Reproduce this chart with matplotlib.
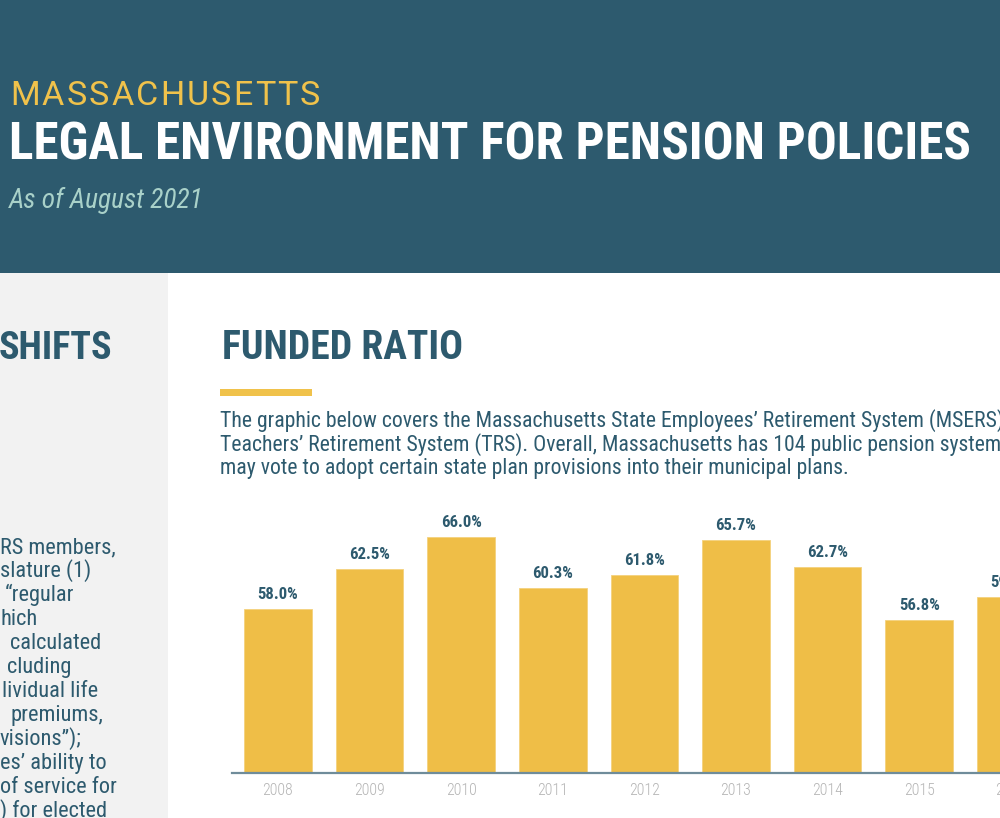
import matplotlib
matplotlib.use('Agg')
import matplotlib.pyplot as plt
from matplotlib import font_manager
from matplotlib.patches import Rectangle

# data
years = ['2008', '2009', '2010', '2011', '2012', '2013', '2014', '2015', '2016']
funded = [58.0, 62.5, 66.0, 60.3, 61.8, 65.7, 62.7, 56.8, 59.3]
bar_labels = ['%.1f%%' % v for v in funded]

intro_lines = [
    "The graphic below covers the Massachusetts State Employees\u2019 Retirement System (MSERS) and the",
    "Teachers\u2019 Retirement System (TRS). Overall, Massachusetts has 104 public pension systems; localities",
    "may vote to adopt certain state plan provisions into their municipal plans.",
]

# left column is cut off by the page edge, only the tails of the lines show
side_lines = ["RS members,", "slature (1)", "\u201cregular", "hich", "calculated", "cluding",
              "lividual life", "premiums,", "visions\u201d);", "es\u2019 ability to", "of service for",
              ") for elected"]
side_x = [0, 0, 5, 0, 10, 7, 2, 10, 0, 0, 0, 0]

teal = '#2d5a6e'
yellow = '#efbe47'

W, H = 1000, 818
installed = {f.name for f in font_manager.fontManager.ttflist}
font = 'DejaVu Sans'
for f in ['Roboto Condensed', 'Liberation Sans Narrow', 'Roboto']:
    if f in installed:
        font = f
        break
wide_font = 'Roboto' if 'Roboto' in installed else font
plt.rcParams['font.family'] = font

fig = plt.figure(figsize=(10, 8.18), dpi=100, facecolor='white')
renderer = fig.canvas.get_renderer()


def fy(y):
    return 1 - y / H


def put(x, y, s, width=None, size=12, **kw):
    # place text in pixel coords (top-left origin), optionally scaled to a width
    t = fig.text(x / W, fy(y), s, fontsize=size, va='baseline', ha='left', **kw)
    if width:
        w = t.get_window_extent(renderer).width
        t.set_fontsize(size * width / w)
    return t


def fit_size(s, width, **kw):
    t = fig.text(0, 0, s, fontsize=10, **kw)
    w = t.get_window_extent(renderer).width
    t.remove()
    return 10 * width / w


def spaced(x, y, s, width, size, **kw):
    # letter-spaced caps: draw one glyph at a time, spread to the given width
    widths = []
    for ch in s:
        t = fig.text(0, 0, ch, fontsize=size, **kw)
        widths.append(t.get_window_extent(renderer).width)
        t.remove()
    gap = (width - sum(widths)) / (len(s) - 1)
    for ch, w in zip(s, widths):
        put(x, y, ch, size=size, **kw)
        x += w + gap


# header band and grey side column
fig.add_artist(Rectangle((0, fy(273)), 1, 273 / H, transform=fig.transFigure,
                         facecolor=teal, edgecolor='none', zorder=0))
fig.add_artist(Rectangle((0, 0), 168 / W, fy(273), transform=fig.transFigure,
                         facecolor='#f2f2f2', edgecolor='none', zorder=0))

spaced(10, 105, 'MASSACHUSETTS', 310, 24.5, color='#f0c24b', fontweight='normal',
       family=wide_font)
put(9, 160, 'LEGAL ENVIRONMENT FOR PENSION POLICIES', width=961, size=33,
    color='white', fontweight='bold')
put(9, 208, 'As of August 2021', width=195, size=18, color='#a9d1c9', style='italic')

put(-1, 359, 'SHIFTS', width=114, size=27, color=teal, fontweight='bold')
put(222, 359, 'FUNDED RATIO', width=241, size=27, color=teal, fontweight='bold')
fig.add_artist(Rectangle((220 / W, fy(395.5)), 92 / W, 6.5 / H, transform=fig.transFigure,
                         facecolor='#f0c24b', edgecolor='none'))

para_size = fit_size(intro_lines[2], 625)
for i, line in enumerate(intro_lines):
    put(220, 427 + 23.5 * i, line, size=para_size, color=teal)

side_size = fit_size(side_lines[0], 115)
for i, line in enumerate(side_lines):
    put(side_x[i], 553 + 24 * i, line, size=side_size, color=teal)

# bar chart
ax = fig.add_axes([232 / W, fy(773), 768 / W, 273 / H])
ax.patch.set_alpha(0)
x = list(range(len(funded)))
ax.bar(x, funded, width=0.74, color=yellow, edgecolor='#f4d27e', linewidth=0.6, zorder=2)
ax.set_xlim(-0.502, 7.882)
ax.set_ylim(39.7, 70.17)
ax.set_xticks([])
ax.set_yticks([])
for side in ['top', 'left', 'right']:
    ax.spines[side].set_visible(False)
ax.spines['bottom'].set_color('#6f8c9a')
ax.spines['bottom'].set_linewidth(1.6)
ax.spines['bottom'].set_zorder(3)

lab_size = fit_size('58.0%', 41, fontweight='bold')
yr_size = fit_size('2008', 31)
for i, v in enumerate(funded):
    ax.annotate(bar_labels[i], (i, v), xytext=(0, 7.2), textcoords='offset points',
                ha='center', va='baseline', fontsize=lab_size, fontweight='bold',
                color=teal, annotation_clip=False)
    ax.text(i, -0.0635, years[i], transform=ax.get_xaxis_transform(), ha='center',
            va='center', fontsize=yr_size, color='#b5b5b5', fontweight='light')

fig.savefig('out.png', dpi=100, facecolor='white')
